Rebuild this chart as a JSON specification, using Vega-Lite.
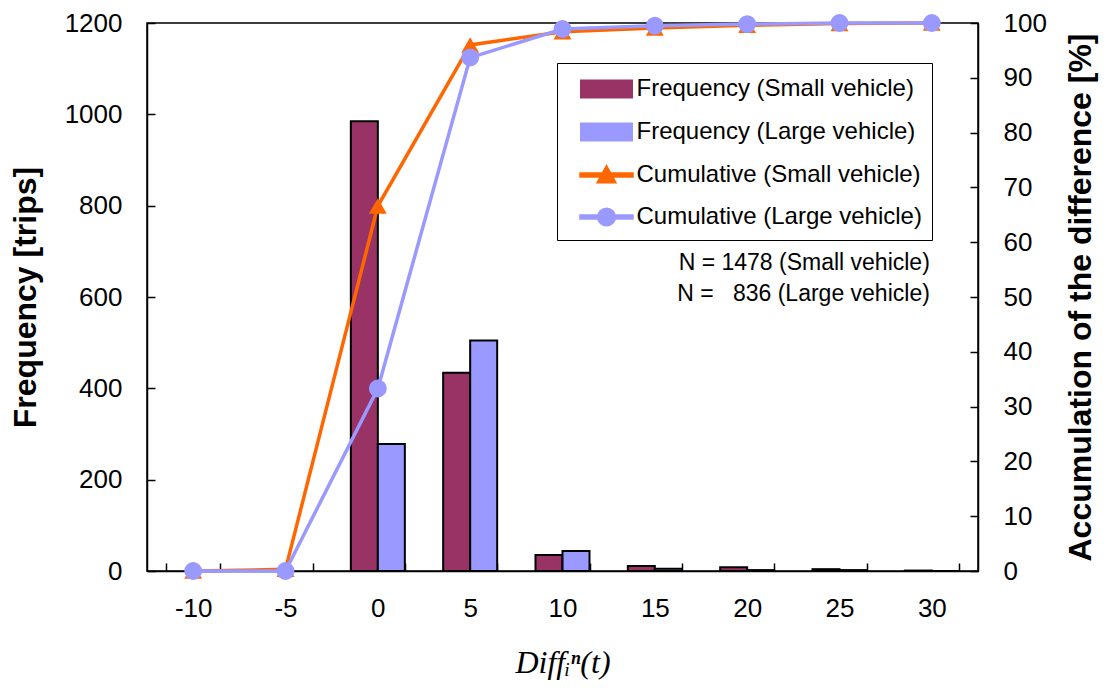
{
  "$schema": "https://vega.github.io/schema/vega-lite/v6.json",
  "width": 831,
  "height": 548,
  "autosize": {"type": "none"},
  "padding": {"left": 147, "top": 23, "right": 128, "bottom": 120},
  "background": "white",
  "config": {
    "view": {"stroke": "black", "strokeWidth": 1.5},
    "font": "Liberation Sans",
    "axis": {
      "labelFont": "Liberation Sans",
      "labelFontSize": 26,
      "labelColor": "black",
      "domainColor": "black",
      "domainWidth": 1.5,
      "tickColor": "black",
      "tickWidth": 1.5,
      "tickSize": -8,
      "grid": false,
      "titleColor": "black"
    },
    "legend": {
      "orient": "none",
      "legendX": 410,
      "legendY": 40,
      "strokeColor": "black",
      "fillColor": "white",
      "padding": 10,
      "rowPadding": 14,
      "symbolSize": 900,
      "symbolOffset": 23.5,
      "labelOffset": 14,
      "labelFont": "Liberation Sans",
      "labelFontSize": 24,
      "labelColor": "black",
      "labelLimit": 400,
      "symbolOpacity": 1,
      "symbolStrokeWidth": 2
    }
  },
  "datasets": {
    "freq": [
      {"diff": "0", "series": "Frequency (Small vehicle)", "count": 985},
      {"diff": "0", "series": "Frequency (Large vehicle)", "count": 278},
      {"diff": "5", "series": "Frequency (Small vehicle)", "count": 434},
      {"diff": "5", "series": "Frequency (Large vehicle)", "count": 505},
      {"diff": "10", "series": "Frequency (Small vehicle)", "count": 35},
      {"diff": "10", "series": "Frequency (Large vehicle)", "count": 44},
      {"diff": "15", "series": "Frequency (Small vehicle)", "count": 11},
      {"diff": "15", "series": "Frequency (Large vehicle)", "count": 5},
      {"diff": "20", "series": "Frequency (Small vehicle)", "count": 8},
      {"diff": "20", "series": "Frequency (Large vehicle)", "count": 2},
      {"diff": "25", "series": "Frequency (Small vehicle)", "count": 4},
      {"diff": "25", "series": "Frequency (Large vehicle)", "count": 2},
      {"diff": "30", "series": "Frequency (Small vehicle)", "count": 1},
      {"diff": "30", "series": "Frequency (Large vehicle)", "count": 0}
    ],
    "cum": [
      {"diff": "-10", "series": "Cumulative (Small vehicle)", "pct": 0},
      {"diff": "-5", "series": "Cumulative (Small vehicle)", "pct": 0.3},
      {"diff": "0", "series": "Cumulative (Small vehicle)", "pct": 66.6},
      {"diff": "5", "series": "Cumulative (Small vehicle)", "pct": 96.0},
      {"diff": "10", "series": "Cumulative (Small vehicle)", "pct": 98.4},
      {"diff": "15", "series": "Cumulative (Small vehicle)", "pct": 99.1},
      {"diff": "20", "series": "Cumulative (Small vehicle)", "pct": 99.6},
      {"diff": "25", "series": "Cumulative (Small vehicle)", "pct": 99.9},
      {"diff": "30", "series": "Cumulative (Small vehicle)", "pct": 100},
      {"diff": "-10", "series": "Cumulative (Large vehicle)", "pct": 0},
      {"diff": "-5", "series": "Cumulative (Large vehicle)", "pct": 0},
      {"diff": "0", "series": "Cumulative (Large vehicle)", "pct": 33.3},
      {"diff": "5", "series": "Cumulative (Large vehicle)", "pct": 93.7},
      {"diff": "10", "series": "Cumulative (Large vehicle)", "pct": 98.9},
      {"diff": "15", "series": "Cumulative (Large vehicle)", "pct": 99.5},
      {"diff": "20", "series": "Cumulative (Large vehicle)", "pct": 99.8},
      {"diff": "25", "series": "Cumulative (Large vehicle)", "pct": 100},
      {"diff": "30", "series": "Cumulative (Large vehicle)", "pct": 100}
    ],
    "notes": [
      {"diff": "30", "count": 674, "note": "N = 1478 (Small vehicle)"},
      {"diff": "30", "count": 606, "note": "N =  \u00a0\u00a0836 (Large vehicle)"}
    ]
  },
  "layer": [
    {
      "data": {"name": "freq"},
      "mark": {"type": "bar", "stroke": "black", "strokeWidth": 2},
      "encoding": {
        "x": {
          "field": "diff",
          "type": "nominal",
          "scale": {
            "domain": ["-10", "-5", "0", "5", "10", "15", "20", "25", "30"],
            "paddingInner": 0.415,
            "paddingOuter": 0.2075
          },
          "axis": {
            "orient": "bottom",
            "labelAngle": 0,
            "tickBand": "extent",
            "labelPadding": 32,
            "title": "Diffᵢⁿ(t)",
            "titleFont": "Liberation Serif",
            "titleFontStyle": "italic",
            "titleFontWeight": "normal",
            "titleFontSize": 32,
            "titlePadding": 26
          }
        },
        "xOffset": {
          "field": "series",
          "type": "nominal",
          "sort": ["Frequency (Small vehicle)", "Frequency (Large vehicle)"],
          "scale": {"paddingInner": 0, "paddingOuter": 0}
        },
        "y": {
          "field": "count",
          "type": "quantitative",
          "scale": {"domain": [0, 1200], "nice": false},
          "axis": {
            "orient": "left",
            "values": [0, 200, 400, 600, 800, 1000, 1200],
            "format": "d",
            "labelPadding": 33,
            "title": "Frequency [trips]",
            "titleFont": "Liberation Sans",
            "titleFontSize": 32,
            "titleFontWeight": "bold",
            "titlePadding": 22
          }
        },
        "color": {
          "field": "series",
          "type": "nominal",
          "scale": {
            "domain": ["Frequency (Small vehicle)", "Frequency (Large vehicle)", "Cumulative (Small vehicle)", "Cumulative (Large vehicle)"],
            "range": ["#993366", "#9999FF", "#FF6600", "#9999FF"]
          },
          "legend": {
            "title": null,
            "symbolType": {"expr": "indexof(datum.value, 'Frequency') === 0 ? 'M-1.7,-0.57H1.7V0.57H-1.7Z' : (indexof(datum.value, 'Small') >= 0 ? 'M-1.75,-0.12H1.75V0.12H-1.75Z M-0.6,0.5L0,-0.6L0.6,0.5Z' : 'M-1.75,-0.12H1.75V0.12H-1.75Z M-0.57,0A0.57,0.57 0 1,1 0.57,0A0.57,0.57 0 1,1 -0.57,0Z')"},
            "encode": {
              "symbols": {
                "stroke": {"condition": {"test": "indexof(datum.value, 'Frequency') === 0", "value": "black"}, "value": "transparent"},
                "strokeWidth": {"value": 2}
              }
            }
          }
        }
      }
    },
    {
      "data": {"name": "cum"},
      "layer": [
        {
          "mark": {"type": "line", "strokeWidth": 3.5},
          "encoding": {
            "x": {"field": "diff", "type": "nominal"},
            "y": {
              "field": "pct",
              "type": "quantitative",
              "scale": {"domain": [0, 100], "nice": false},
              "axis": {
                "orient": "right",
                "values": [0, 10, 20, 30, 40, 50, 60, 70, 80, 90, 100],
                "labelPadding": 33,
                "title": "Accumulation of the difference [%]",
                "titleFont": "Liberation Sans",
                "titleFontSize": 32,
                "titleFontWeight": "bold",
                "titleAngle": -90,
                "titleBaseline": "top",
                "titlePadding": 19
              }
            },
            "color": {"field": "series", "type": "nominal"}
          }
        },
        {
          "mark": {"type": "point", "filled": true, "opacity": 1, "size": 320},
          "encoding": {
            "x": {"field": "diff", "type": "nominal"},
            "y": {"field": "pct", "type": "quantitative"},
            "color": {"field": "series", "type": "nominal"},
            "shape": {
              "field": "series",
              "type": "nominal",
              "scale": {
                "domain": ["Cumulative (Small vehicle)", "Cumulative (Large vehicle)"],
                "range": ["triangle-up", "circle"]
              },
              "legend": null
            }
          }
        }
      ]
    },
    {
      "data": {"name": "notes"},
      "mark": {"type": "text", "align": "right", "baseline": "middle", "fontSize": 23, "font": "Liberation Sans", "color": "black", "dx": -2},
      "encoding": {
        "x": {"field": "diff", "type": "nominal"},
        "y": {"field": "count", "type": "quantitative", "scale": {"domain": [0, 1200], "nice": false}, "axis": null},
        "text": {"field": "note"}
      }
    }
  ],
  "resolve": {"scale": {"y": "independent"}}
}
